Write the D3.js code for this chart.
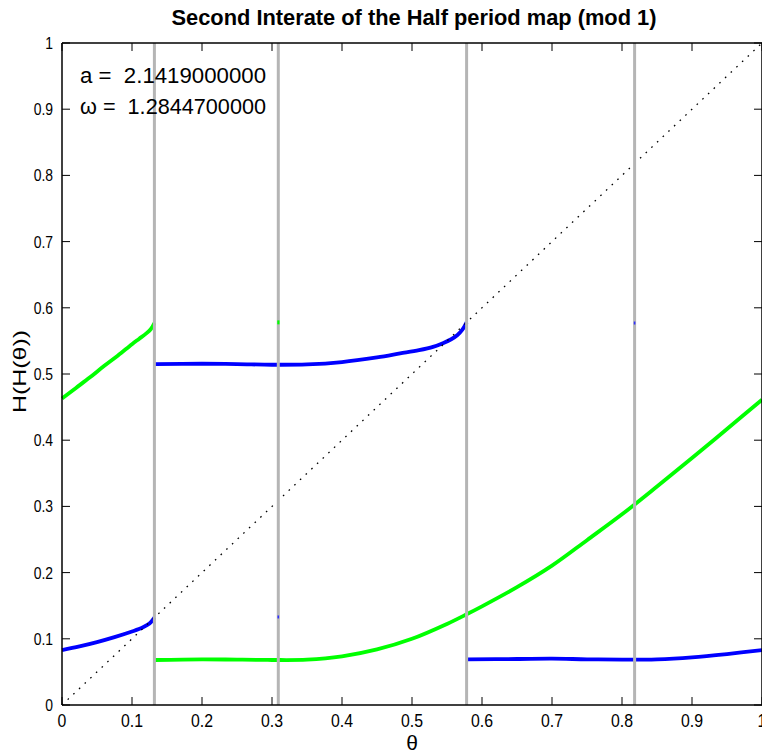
<!DOCTYPE html>
<html>
<head>
<meta charset="utf-8">
<script src="https://cdn.jsdelivr.net/npm/d3@7"></script>
<style>
html,body{margin:0;padding:0;background:#fff;overflow:hidden;}
svg{display:block;font-family:"Liberation Sans",Arial,Helvetica,sans-serif;}
</style>
</head>
<body>
<svg id="chart" width="762" height="755"></svg>
<script>
// ---- data ----
const title = "Second Interate of the Half period map (mod 1)";
const xLabel = "θ";
const yLabel = "H(H(θ))";
const annotations = ["a =  2.1419000000", "ω =  1.2844700000"];
const xTicks = [0, 0.1, 0.2, 0.3, 0.4, 0.5, 0.6, 0.7, 0.8, 0.9, 1];
const yTicks = [0, 0.1, 0.2, 0.3, 0.4, 0.5, 0.6, 0.7, 0.8, 0.9, 1];
const discontinuities = [0.132, 0.309, 0.578, 0.818];

const greenA_theta = [0, 0.02, 0.04, 0.06, 0.08, 0.1, 0.11, 0.12, 0.127, 0.132];
const greenA_val   = [0.463, 0.479, 0.495, 0.512, 0.528, 0.545, 0.553, 0.561, 0.568, 0.577];

const blueA_theta = [0, 0.025, 0.05, 0.075, 0.1, 0.115, 0.125, 0.132];
const blueA_val   = [0.083, 0.0885, 0.095, 0.1025, 0.111, 0.117, 0.123, 0.132];

const blueB_theta = [0.133, 0.2, 0.25, 0.3, 0.35, 0.4, 0.45, 0.483, 0.51, 0.53, 0.545, 0.556, 0.565, 0.572, 0.578];
const blueB_val   = [0.515, 0.5155, 0.515, 0.514, 0.5145, 0.518, 0.525, 0.531, 0.536, 0.541, 0.547, 0.5525, 0.559, 0.567, 0.578];

const greenB_theta = [0.133, 0.2, 0.25, 0.3, 0.35, 0.4, 0.45, 0.5, 0.55, 0.578, 0.6, 0.65, 0.7, 0.75, 0.8, 0.85, 0.9, 0.95, 1.0];
const greenB_val   = [0.068, 0.069, 0.0685, 0.068, 0.0685, 0.0735, 0.084, 0.1, 0.1225, 0.137, 0.149, 0.178, 0.2105, 0.249, 0.288, 0.330, 0.373, 0.417, 0.461];

const blueC_theta = [0.579, 0.65, 0.7, 0.75, 0.8, 0.85, 0.9, 0.95, 1.0];
const blueC_val   = [0.069, 0.0695, 0.07, 0.069, 0.0685, 0.069, 0.072, 0.077, 0.083];

const greenDots_theta = [0.309];
const greenDots_val   = [0.578];
const blueDots_theta  = [0.309, 0.818];
const blueDots_val    = [0.133, 0.577];

// ---- layout ----
const W = 762, H = 755;
const margin = {left: 62, top: 43, right: 0, bottom: 50};
const svg = d3.select("#chart");
const x = d3.scaleLinear().domain([0, 1]).range([margin.left, W - margin.right]);
const y = d3.scaleLinear().domain([0, 1]).range([H - margin.bottom, margin.top]);

const zip = (a, b) => a.map((t, i) => [t, b[i]]);
const line = d3.line().x(d => x(d[0])).y(d => y(d[1])).curve(d3.curveCatmullRom.alpha(0.5));

const plot = svg.append("g");

// curves
const series = [
  {t: blueA_theta, v: blueA_val, c: "#0000ff"},
  {t: blueB_theta, v: blueB_val, c: "#0000ff"},
  {t: blueC_theta, v: blueC_val, c: "#0000ff"},
  {t: greenA_theta, v: greenA_val, c: "#00ff00"},
  {t: greenB_theta, v: greenB_val, c: "#00ff00"}
];
series.forEach(s => {
  plot.append("path").datum(zip(s.t, s.v))
    .attr("d", line).attr("fill", "none")
    .attr("stroke", s.c).attr("stroke-width", 3.8)
    .attr("stroke-linecap", "butt").attr("stroke-linejoin", "round");
});

// dotted identity line
plot.append("path").datum([[0, 0], [1, 1]])
  .attr("d", d3.line().x(d => x(d[0])).y(d => y(d[1])))
  .attr("stroke", "#000").attr("stroke-width", 1.3)
  .attr("stroke-dasharray", "1.6,6.2").attr("fill", "none");

// vertical discontinuity lines
plot.selectAll(".disc").data(discontinuities).enter().append("line")
  .attr("x1", d => x(d)).attr("x2", d => x(d))
  .attr("y1", y(0)).attr("y2", y(1))
  .attr("stroke", "#b5b5b5").attr("stroke-width", 3);

// tiny isolated points
plot.selectAll(".gdot").data(zip(greenDots_theta, greenDots_val)).enter().append("rect")
  .attr("x", d => x(d[0]) - 1).attr("y", d => y(d[1]) - 2)
  .attr("width", 2.2).attr("height", 4).attr("fill", "#00ff00");
plot.selectAll(".bdot").data(zip(blueDots_theta, blueDots_val)).enter().append("rect")
  .attr("x", d => x(d[0]) - 0.8).attr("y", d => y(d[1]) - 1.5)
  .attr("width", 1.6).attr("height", 3).attr("fill", "#3030ff");

// axes box
const axisG = svg.append("g");
[[x(0), x(1), y(0), y(0)], [x(0), x(1), y(1), y(1)], [x(0), x(0), y(0), y(1)], [x(1), x(1), y(0), y(1)]]
  .forEach(l => axisG.append("line").attr("x1", l[0]).attr("x2", l[1]).attr("y1", l[2]).attr("y2", l[3])
    .attr("stroke", "#000").attr("stroke-width", 1.5));

const tl = 8;
xTicks.forEach(t => {
  axisG.append("line").attr("x1", x(t)).attr("x2", x(t)).attr("y1", y(0)).attr("y2", y(0) - tl).attr("stroke", "#000").attr("stroke-width", 1);
  axisG.append("line").attr("x1", x(t)).attr("x2", x(t)).attr("y1", y(1)).attr("y2", y(1) + tl).attr("stroke", "#000").attr("stroke-width", 1);
  axisG.append("text").attr("transform", `translate(${x(t)},${y(0) + 22}) scale(0.88,1)`)
    .attr("text-anchor", "middle").attr("font-size", 18).attr("fill", "#000").text(String(t));
});
yTicks.forEach(t => {
  axisG.append("line").attr("x1", x(0)).attr("x2", x(0) + tl).attr("y1", y(t)).attr("y2", y(t)).attr("stroke", "#000").attr("stroke-width", 1);
  axisG.append("line").attr("x1", x(1)).attr("x2", x(1) - tl).attr("y1", y(t)).attr("y2", y(t)).attr("stroke", "#000").attr("stroke-width", 1);
  axisG.append("text").attr("transform", `translate(${x(0) - 9},${y(t) + 6}) scale(0.82,1)`)
    .attr("text-anchor", "end").attr("font-size", 17).attr("fill", "#000").text(String(t));
});

// title
svg.append("text").attr("x", (x(0) + x(1)) / 2 + 2).attr("y", 25)
  .attr("text-anchor", "middle").attr("font-size", 22).attr("font-weight", "bold")
  .attr("textLength", 485).attr("lengthAdjust", "spacingAndGlyphs").text(title);

// axis labels
svg.append("text").attr("x", (x(0) + x(1)) / 2).attr("y", 750)
  .attr("text-anchor", "middle").attr("font-size", 21).text(xLabel);
svg.append("text").attr("transform", `translate(26,${371.5}) rotate(-90)`)
  .attr("text-anchor", "middle").attr("font-size", 19)
  .attr("textLength", 83).attr("lengthAdjust", "spacingAndGlyphs").text(yLabel);

// annotations
annotations.forEach((s, i) => {
  svg.append("text").attr("x", 80).attr("y", 83 + i * 31)
    .attr("font-size", 22).style("white-space", "pre")
    .attr("textLength", 186).attr("lengthAdjust", "spacingAndGlyphs").text(s);
});
</script>
</body>
</html>
